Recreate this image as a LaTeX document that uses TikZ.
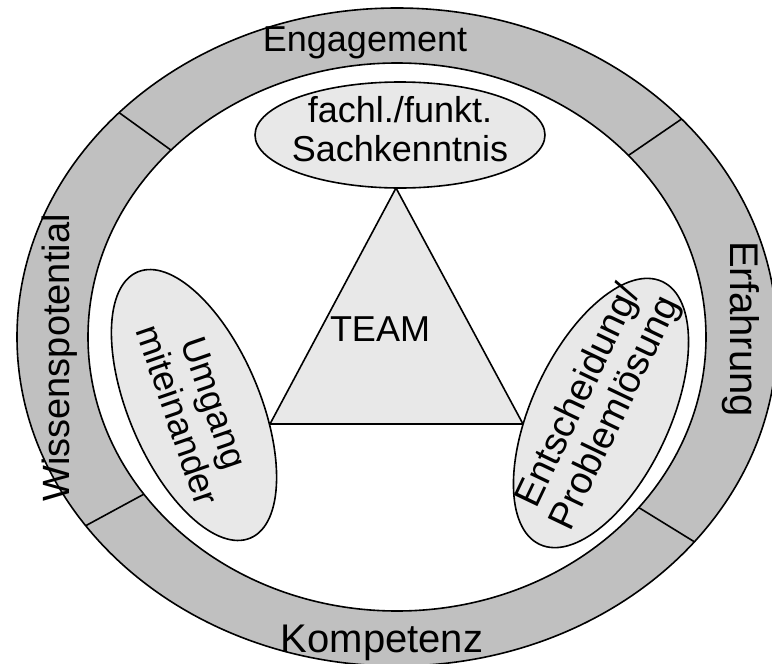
\documentclass[tikz,border=0pt]{standalone}
\usepackage{fontspec}
\setmainfont{Liberation Sans}
\usetikzlibrary{shapes.geometric}
\definecolor{band}{HTML}{C0C0C0}
\definecolor{pale}{HTML}{E8E8E8}
\begin{document}
\begin{tikzpicture}[x=1pt,y=-1pt,
  outline/.style={draw=black,line width=1.6pt},
  bubble/.style={ellipse,draw=black,line width=1.6pt,fill=pale,inner sep=0pt},
  lbl/.style={font=\fontsize{36}{39}\selectfont,align=center,inner sep=0pt},
  big/.style={font=\fontsize{40}{44}\selectfont,inner sep=0pt}]
\useasboundingbox (0,0) rectangle (772,664);
\coordinate (c) at (397,337);
% ring
\fill[band,even odd rule] (c) ellipse [x radius=380pt,y radius=329pt]
                          (c) ellipse [x radius=309pt,y radius=274pt];
\draw[outline] (c) ellipse [x radius=380pt,y radius=329pt];
\draw[outline] (c) ellipse [x radius=309pt,y radius=274pt];
\foreach \t/\n in {-137/a,-41.5/b,145/c,38.5/d}{
  \coordinate (o\n) at ({397+380*cos(\t)},{337+329*sin(\t)});
  \coordinate (i\n) at ({397+309*cos(\t)},{337+274*sin(\t)});
  \draw[outline] (o\n) -- (i\n);
}
% triangle
\coordinate (apex) at (396,188);
\coordinate (bl) at (270,424);
\coordinate (br) at (523,424);
\filldraw[outline,fill=pale,line join=miter] (apex) -- (bl) -- (br) -- cycle;
% ellipses
\node[bubble,minimum width=290pt,minimum height=106pt] (top) at (400,135) {};
\node[bubble,minimum width=289pt,minimum height=131pt,rotate=-67] (left) at (194,405) {};
\node[bubble,minimum width=290pt,minimum height=138pt,rotate=65] (right) at (601,413) {};
% texts
\node[lbl] (ttop) at (400,129) {fachl./funkt.\\Sachkenntnis};
\node[lbl,rotate=-71] (tleft) at (196,409) {Umgang\\miteinander};
\node[lbl,font=\fontsize{38}{40}\selectfont,rotate=64.5] (tright) at (598,405) {Entscheidung/\\Problemlösung};
\node[lbl] (team) at (380,329) {TEAM};
\node[lbl] (eng) at (365,43) {Engagement};
\node[big] (komp) at (382,643) {Kompetenz};
\node[lbl,font=\fontsize{38}{40}\selectfont,rotate=90] (wiss) at (60,358) {Wissenspotential};
\node[big,rotate=-90] (erf) at (741,329) {Erfahrung};
\end{tikzpicture}
\end{document}
